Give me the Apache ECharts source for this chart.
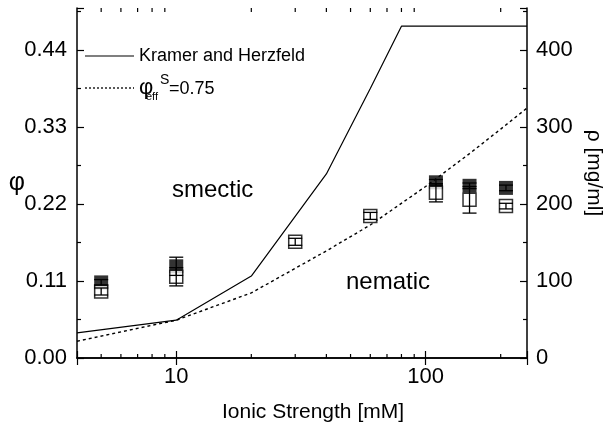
<!DOCTYPE html>
<html>
<head>
<meta charset="utf-8">
<script src="https://cdn.jsdelivr.net/npm/echarts@6/dist/echarts.min.js"></script>
<style>html,body{margin:0;padding:0;background:#fff}#c{width:608px;height:423px}</style>
</head>
<body>
<div id="c"></div>
<script>
// ---- data ----
const ionicKH = [4, 10, 20, 40, 60, 80, 255];
const phiKH = [0.036, 0.054, 0.117, 0.263, 0.385, 0.474, 0.474];

const ionicFit = [4, 10, 20, 40, 60, 100, 150, 200, 255];
const phiFit = [0.024, 0.054, 0.093, 0.153, 0.19, 0.245, 0.292, 0.327, 0.357];

const ionicFilled = [5, 10, 110, 150, 210];
const phiFilled = [0.108, 0.131, 0.251, 0.246, 0.243];
const errFilled = [0.004, 0.013, 0.004, 0.004, 0.004];

const ionicOpen = [5, 10, 30, 60, 110, 150, 210];
const phiOpen = [0.095, 0.116, 0.166, 0.203, 0.236, 0.226, 0.217];
const errOpen = [0.005, 0.013, 0.005, 0.005, 0.013, 0.019, 0.004];

const xMinorTicks = [5, 6, 7, 8, 9, 20, 30, 40, 50, 60, 70, 80, 90, 200];
const xLabelValues = [10, 100];

const X_MIN = 4, X_MAX = 255, PHI_MAX = 0.5, PHI_STEP = 0.11;
const RHO_PER_PHI = 400 / 0.44;

const FONT = "'Liberation Sans', Arial, Helvetica, sans-serif";

const zip = (a, b, c) => a.map((v, i) => c ? [v, b[i], c[i]] : [v, b[i]]);

const chart = echarts.init(document.getElementById('c'));

function errorBarItem(params, api) {
  const x = api.value(0), y = api.value(1), e = api.value(2);
  const top = api.coord([x, y + e]);
  const bot = api.coord([x, y - e]);
  const hw = 7;
  const style = {stroke: '#000', lineWidth: 1.3};
  return {
    type: 'group',
    children: [
      {type: 'line', shape: {x1: top[0], y1: top[1], x2: bot[0], y2: bot[1]}, style},
      {type: 'line', shape: {x1: top[0] - hw, y1: top[1], x2: top[0] + hw, y2: top[1]}, style},
      {type: 'line', shape: {x1: bot[0] - hw, y1: bot[1], x2: bot[0] + hw, y2: bot[1]}, style}
    ]
  };
}

function minorTickItem(params, api) {
  const x = api.value(0);
  const b = api.coord([x, 0]);
  const t = api.coord([x, PHI_MAX]);
  const style = {stroke: '#000', lineWidth: 1.2};
  return {
    type: 'group',
    children: [
      {type: 'line', shape: {x1: b[0], y1: b[1], x2: b[0], y2: b[1] - 4}, style},
      {type: 'line', shape: {x1: t[0], y1: t[1], x2: t[0], y2: t[1] + 4}, style}
    ]
  };
}

const axisLineStyle = {lineStyle: {color: '#000', width: 1.5}};
const tickStyle = {inside: true, length: 7, lineStyle: {color: '#000', width: 1.2}};
const minorStyle = {show: true, splitNumber: 2, length: 4, lineStyle: {color: '#000', width: 1.2}};

const option = {
  animation: false,
  backgroundColor: '#fff',
  grid: {left: 77, right: 81, top: 8, bottom: 65, containLabel: false, outerBoundsMode: 'none'},
  xAxis: [
    {
      type: 'log', logBase: 10, min: X_MIN, max: X_MAX, position: 'bottom',
      axisLine: axisLineStyle, axisTick: tickStyle, splitLine: {show: false},
      axisLabel: {
        color: '#000', fontSize: 22, fontFamily: FONT, margin: 8,
        formatter: v => {
          const m = xLabelValues.find(t => Math.abs(t - v) / t < 1e-6);
          return m !== undefined ? String(m) : '';
        }
      },
      name: 'Ionic Strength [mM]', nameLocation: 'middle', nameGap: 44,
      nameTextStyle: {color: '#000', fontSize: 21, fontFamily: FONT, padding: [0, 0, 0, 22]}
    },
    {
      type: 'log', logBase: 10, min: X_MIN, max: X_MAX, position: 'top',
      axisLine: axisLineStyle, axisTick: tickStyle, axisLabel: {show: false}, splitLine: {show: false}
    }
  ],
  yAxis: [
    {
      type: 'value', min: 0, max: PHI_MAX, interval: PHI_STEP, position: 'left',
      axisLine: {show: true, ...axisLineStyle}, axisTick: tickStyle, minorTick: minorStyle,
      splitLine: {show: false}, minorSplitLine: {show: false},
      axisLabel: {color: '#000', fontSize: 22, fontFamily: FONT, margin: 10, showMaxLabel: false,
        formatter: v => v.toFixed(2)},
      name: 'φ', nameLocation: 'middle', nameGap: 52, nameRotate: 0, nameMoveOverlap: false,
      nameTextStyle: {color: '#000', fontSize: 25, fontFamily: FONT, padding: [0, 0, 8, 0]}
    },
    {
      type: 'value', min: 0, max: PHI_MAX * RHO_PER_PHI, interval: 100, position: 'right',
      axisLine: {show: true, ...axisLineStyle}, axisTick: tickStyle, minorTick: minorStyle,
      splitLine: {show: false}, minorSplitLine: {show: false},
      axisLabel: {color: '#000', fontSize: 22, fontFamily: FONT, margin: 9, showMaxLabel: false},
      name: 'ρ [mg/ml]', nameLocation: 'middle', nameGap: 55, nameRotate: -90,
      nameTextStyle: {color: '#000', fontSize: 21, fontFamily: FONT, padding: [0, 20, 0, 0]}
    }
  ],
  series: [
    {
      name: 'Kramer and Herzfeld', type: 'line', data: zip(ionicKH, phiKH),
      showSymbol: false, lineStyle: {color: '#000', width: 1.2}, z: 2
    },
    {
      name: 'fit', type: 'line', data: zip(ionicFit, phiFit),
      showSymbol: false, lineStyle: {color: '#000', width: 1.4, type: [3, 3]}, z: 2
    },
    {
      name: 'filled', type: 'scatter', data: zip(ionicFilled, phiFilled),
      symbol: 'rect', symbolSize: 14, itemStyle: {color: '#000'}, z: 3
    },
    {
      name: 'open', type: 'scatter', data: zip(ionicOpen, phiOpen),
      symbol: 'rect', symbolSize: 13, itemStyle: {color: '#fff', borderColor: '#000', borderWidth: 1.5}, z: 4
    },
    {
      name: 'errFilled', type: 'custom', data: zip(ionicFilled, phiFilled, errFilled),
      renderItem: errorBarItem, z: 5
    },
    {
      name: 'errOpen', type: 'custom', data: zip(ionicOpen, phiOpen, errOpen),
      renderItem: errorBarItem, z: 5
    },
    {
      name: 'xminor', type: 'custom', data: xMinorTicks.map(v => [v, 0]),
      renderItem: minorTickItem, clip: false, z: 6, silent: true
    }
  ],
  graphic: [
    {type: 'line', shape: {x1: 85, y1: 56, x2: 134, y2: 56}, style: {stroke: '#000', lineWidth: 1.2}},
    {type: 'text', x: 139, y: 56, style: {text: 'Kramer and Herzfeld', fill: '#000', font: '18px ' + FONT, verticalAlign: 'middle'}},
    {type: 'line', shape: {x1: 85, y1: 88, x2: 134, y2: 88}, style: {stroke: '#000', lineWidth: 1.3, lineDash: [2, 2]}},
    {type: 'text', x: 139, y: 88, style: {text: 'φ', fill: '#000', font: '22px ' + FONT, verticalAlign: 'middle'}},
    {type: 'text', x: 146, y: 97, style: {text: 'eff', fill: '#000', font: '11px ' + FONT, verticalAlign: 'middle'}},
    {type: 'text', x: 160, y: 80, style: {text: 'S', fill: '#000', font: '14px ' + FONT, verticalAlign: 'middle'}},
    {type: 'text', x: 169, y: 89, style: {text: '=0.75', fill: '#000', font: '18px ' + FONT, verticalAlign: 'middle'}},
    {type: 'text', x: 172, y: 190, style: {text: 'smectic', fill: '#000', font: '24px ' + FONT, verticalAlign: 'middle'}},
    {type: 'text', x: 346, y: 282, style: {text: 'nematic', fill: '#000', font: '24px ' + FONT, verticalAlign: 'middle'}}
  ]
};
chart.setOption(option);
</script>
</body>
</html>
